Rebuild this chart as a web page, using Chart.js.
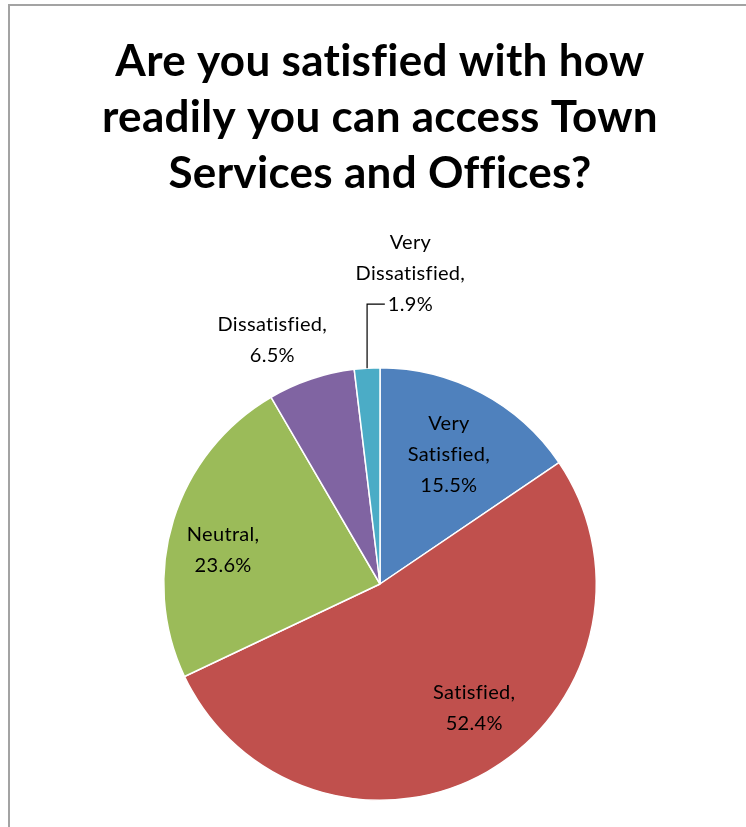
<!DOCTYPE html>
<html>
<head>
<meta charset="utf-8">
<script src="https://cdn.jsdelivr.net/npm/chart.js@4.4.1/dist/chart.umd.min.js"></script>
<style>
  html, body { margin: 0; padding: 0; background: #fff; }
  #wrap { position: relative; width: 746px; height: 827px; overflow: hidden; }
  #frame { position: absolute; left: 8px; top: 4px; right: -4px; bottom: -4px;
           border-top: 2px solid #a3a3a3; border-left: 2px solid #a3a3a3; }
  #pie { position: absolute; left: 0; top: 0; }
</style>
</head>
<body>
<div id="wrap">
  <div id="frame"></div>
  <canvas id="pie" width="746" height="827"></canvas>
</div>
<script>
const titleLines = ['Are you satisfied with how', 'readily you can access Town', 'Services and Offices?'];
const categories = ['Very Satisfied', 'Satisfied', 'Neutral', 'Dissatisfied', 'Very Dissatisfied'];
const shares = [15.5, 52.4, 23.6, 6.5, 1.9];
const sliceColors = ['#4f81bd', '#c0504d', '#9bbb59', '#8064a2', '#4bacc6'];

// where each label sits: fraction of radius along the slice middle, plus a nudge
const labelPlace = [
  { r: 0.68, dx: 0, dy: 0 },
  { r: 0.72, dx: 17, dy: -11 },
  { r: 0.74, dx: -4, dy: 13 },
  { r: 1.23, dx: -23, dy: 8 },
  { r: 1.44, dx: 49, dy: 0, leader: true }
];

const labelFont = '20px Lato';
const lineGap = 31;

// keep "fi" from turning into a ligature, like the original
const noLigatures = {
  id: 'noLigatures',
  beforeDraw(chart) { chart.ctx.letterSpacing = '0.3px'; }
};

const sliceLabels = {
  id: 'sliceLabels',
  afterDatasetsDraw(chart) {
    const ctx = chart.ctx;
    const meta = chart.getDatasetMeta(0);
    ctx.save();
    ctx.font = labelFont;
    ctx.letterSpacing = '0.3px';
    ctx.fillStyle = '#000';
    ctx.textAlign = 'center';
    ctx.textBaseline = 'middle';
    meta.data.forEach((arc, i) => {
      const p = arc.getProps(['x', 'y', 'startAngle', 'endAngle', 'outerRadius'], true);
      const mid = (p.startAngle + p.endAngle) / 2;
      const place = labelPlace[i];
      const r = p.outerRadius * place.r;
      const cx = p.x + Math.cos(mid) * r + place.dx;
      const cy = p.y + Math.sin(mid) * r + place.dy;
      const words = categories[i].split(' ');
      words[words.length - 1] += ',';
      const lines = words.concat([shares[i].toFixed(1) + '%']);
      const top = cy - (lines.length - 1) * lineGap / 2;
      lines.forEach((t, k) => ctx.fillText(t, cx, top + k * lineGap));

      if (place.leader) {
        const ex = p.x + Math.cos(mid) * p.outerRadius;
        const ey = p.y + Math.sin(mid) * p.outerRadius;
        const last = lines[lines.length - 1];
        const ly = top + (lines.length - 1) * lineGap;
        const lx = cx - ctx.measureText(last).width / 2 - 3;
        ctx.beginPath();
        ctx.strokeStyle = '#000';
        ctx.lineWidth = 1.2;
        ctx.moveTo(ex, ey);
        ctx.lineTo(ex, ly);
        ctx.lineTo(lx, ly);
        ctx.stroke();
      }
    });
    ctx.restore();
  }
};

new Chart(document.getElementById('pie'), {
  type: 'pie',
  data: {
    labels: categories,
    datasets: [{
      data: shares,
      backgroundColor: sliceColors,
      borderColor: '#ffffff',
      borderWidth: 1.5
    }]
  },
  options: {
    responsive: false,
    animation: false,
    layout: { padding: { left: 14, right: 0, top: 0, bottom: 26 } },
    plugins: {
      legend: { display: false },
      tooltip: { enabled: false },
      title: {
        display: true,
        text: titleLines,
        color: '#000',
        font: { family: 'Lato', size: 44, weight: 'bold', lineHeight: 56 / 44 },
        padding: { top: 34, bottom: 165 }
      }
    }
  },
  plugins: [noLigatures, sliceLabels]
});
</script>
</body>
</html>
